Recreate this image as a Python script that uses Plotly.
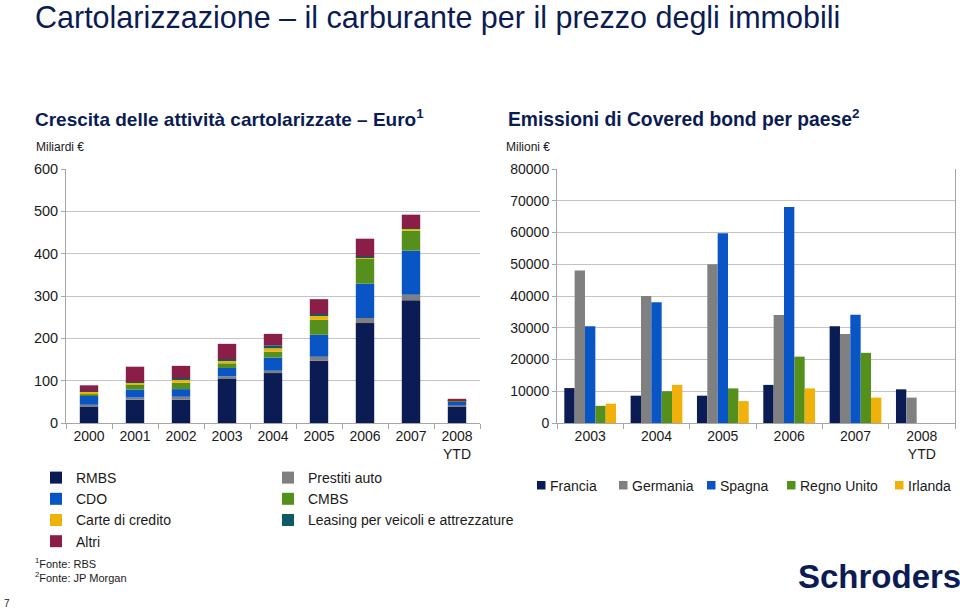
import numpy as np
import plotly.graph_objects as go

# ---------------- data ----------------
years_left = ["2000", "2001", "2002", "2003", "2004", "2005", "2006", "2007", "2008<br>YTD"]
rmbs      = [39, 55, 55, 106, 118, 147, 236, 290, 38]
prestiti  = [4, 5, 7, 4, 5.5, 9.5, 12, 13, 4]
cdo       = [21, 19, 18, 20, 31, 52, 81, 104, 9]
cmbs      = [4, 13, 15, 11, 14, 35, 59, 47, 1.6]
carte     = [5.5, 3, 7, 7, 8, 10, 3, 5, 0]
leasing   = [1.5, 2, 4, 3, 7, 4, 2.4, 1.6, 1.6]
altri     = [14, 36, 29, 36, 27, 35, 42, 31.5, 3]

years_right = ["2003", "2004", "2005", "2006", "2007", "2008<br>YTD"]
francia     = [11000, 8600, 8600, 12000, 30500, 10600]
germania    = [48000, 40000, 50000, 34000, 28000, 8000]
spagna      = [30500, 38000, 59800, 68000, 34100, 0]
regno_unito = [5400, 10000, 10900, 20900, 22100, 0]
irlanda     = [6100, 12000, 6900, 10900, 8000, 0]

left_ticks = [0, 100, 200, 300, 400, 500, 600]
right_ticks = [0, 10000, 20000, 30000, 40000, 50000, 60000, 70000, 80000]

# ---------------- style ----------------
W, H = 960, 611
NAVY = "#0B1C55"
GRAY = "#808080"
BLUE = "#0A55C6"
GREEN = "#55901C"
YELLOW = "#F0B20A"
TEAL = "#0E5A66"
MAROON = "#8A1E48"
TXT = "#1A1A1A"
FONT = "Liberation Sans, Arial, sans-serif"
GRID = "#C4C4C4"
AXL = "#A6A6A6"

def px(x):
    return x / W

def py(y):
    return 1 - y / H

fig = go.Figure()

# left chart: stacked bars (stacking done with base = running total of the series below)
left_series = [
    ("RMBS", rmbs, NAVY, "legend"),
    ("Prestiti auto", prestiti, GRAY, "legend2"),
    ("CDO", cdo, BLUE, "legend"),
    ("CMBS", cmbs, GREEN, "legend2"),
    ("Carte di credito", carte, YELLOW, "legend"),
    ("Leasing per veicoli e attrezzature", leasing, TEAL, "legend2"),
    ("Altri", altri, MAROON, "legend"),
]
running = np.zeros(len(years_left))
for name, vals, col, lg in left_series:
    fig.add_trace(go.Bar(x=years_left, y=vals, base=running.copy(), name=name,
                         marker=dict(color=col, line=dict(width=0)), width=0.4,
                         offsetgroup="stack", xaxis="x", yaxis="y", legend=lg))
    running = running + np.array(vals, dtype=float)

# right chart: grouped bars
right_series = [
    ("Francia", francia, NAVY),
    ("Germania", germania, GRAY),
    ("Spagna", spagna, BLUE),
    ("Regno Unito", regno_unito, GREEN),
    ("Irlanda", irlanda, YELLOW),
]
for name, vals, col in right_series:
    fig.add_trace(go.Bar(x=years_right, y=vals, name=name, marker=dict(color=col, line=dict(width=0)),
                         xaxis="x2", yaxis="y2", offsetgroup=name, showlegend=False))

ydom = [py(423), py(169)]
axis_common = dict(showline=True, linecolor=AXL, linewidth=1, automargin=False)

fig.update_layout(
    width=W, height=H,
    margin=dict(l=0, r=0, t=0, b=0, autoexpand=False),
    paper_bgcolor="white", plot_bgcolor="white",
    font=dict(family=FONT, color=TXT),
    barmode="group",
    bargap=0.22,
    bargroupgap=0,
    xaxis=dict(domain=[px(66), px(480)], type="category", ticks="outside", tickson="boundaries",
               ticklen=5, tickcolor=AXL, showgrid=False,
               tickfont=dict(size=14, color=TXT, family=FONT), **axis_common),
    yaxis=dict(domain=ydom, range=[0, 600], tickvals=left_ticks, ticks="outside", ticklen=4,
               tickcolor=AXL, showgrid=True, gridcolor=GRID, zeroline=False,
               tickfont=dict(size=14.5, color=TXT, family=FONT), **axis_common),
    xaxis2=dict(domain=[px(557), px(955)], type="category", ticks="outside", tickson="boundaries",
                ticklen=5, tickcolor=AXL, showgrid=False, anchor="y2",
                tickfont=dict(size=14, color=TXT, family=FONT), **axis_common),
    yaxis2=dict(domain=ydom, range=[0, 80000], tickvals=right_ticks, tickformat="d", ticks="outside",
                ticklen=4, tickcolor=AXL, showgrid=True, gridcolor=GRID, zeroline=False,
                anchor="x2", mirror=True,
                tickfont=dict(size=14, color=TXT, family=FONT), **axis_common),
    legend=dict(x=px(36), y=py(462), xanchor="left", yanchor="top", traceorder="normal",
                font=dict(size=14, color=TXT), bgcolor="rgba(0,0,0,0)"),
    legend2=dict(x=px(268), y=py(462), xanchor="left", yanchor="top", traceorder="normal",
                 font=dict(size=14, color=TXT), bgcolor="rgba(0,0,0,0)"),
)

# right chart legend (small squares + labels under the chart)
legend_x = [537, 619, 707, 787, 895]
for (name, vals, col), lx in zip(right_series, legend_x):
    fig.add_shape(type="rect", xref="paper", yref="paper",
                  x0=px(lx), x1=px(lx + 8.5), y0=py(489.5), y1=py(481),
                  fillcolor=col, line=dict(width=0))
    fig.add_annotation(text=name, xref="paper", yref="paper", x=px(lx + 11), y=py(485.5),
                       xanchor="left", yanchor="middle", showarrow=False,
                       font=dict(size=14, color=TXT))

annotations = [
    dict(text="Cartolarizzazione – il carburante per il prezzo degli immobili", x=px(33), y=py(17),
         font=dict(size=30.5, color=NAVY)),
    dict(text="<b>Crescita delle attività cartolarizzate – Euro<sup>1</sup></b>", x=px(33), y=py(118),
         font=dict(size=19, color=NAVY)),
    dict(text="<b>Emissioni di Covered bond per paese<sup>2</sup></b>", x=px(506), y=py(118),
         font=dict(size=19.3, color=NAVY)),
    dict(text="Miliardi €", x=px(34), y=py(147), font=dict(size=12, color=TXT)),
    dict(text="Milioni €", x=px(504), y=py(147), font=dict(size=12, color=TXT)),
    dict(text="<sup>1</sup>Fonte: RBS", x=px(33), y=py(563), font=dict(size=11, color=TXT)),
    dict(text="<sup>2</sup>Fonte: JP Morgan", x=px(33), y=py(577), font=dict(size=11, color=TXT)),
    dict(text="7", x=px(2), y=py(603), font=dict(size=10, color=TXT)),
    dict(text="<b>Schroders</b>", x=px(796), y=py(576), font=dict(size=33, color=NAVY)),
]
for a in annotations:
    fig.add_annotation(xref="paper", yref="paper", xanchor="left", yanchor="middle",
                       showarrow=False, **a)

fig.write_html("out.html", config={"displayModeBar": False},
               post_script="document.body.style.margin='0';document.body.style.overflow='hidden';")
